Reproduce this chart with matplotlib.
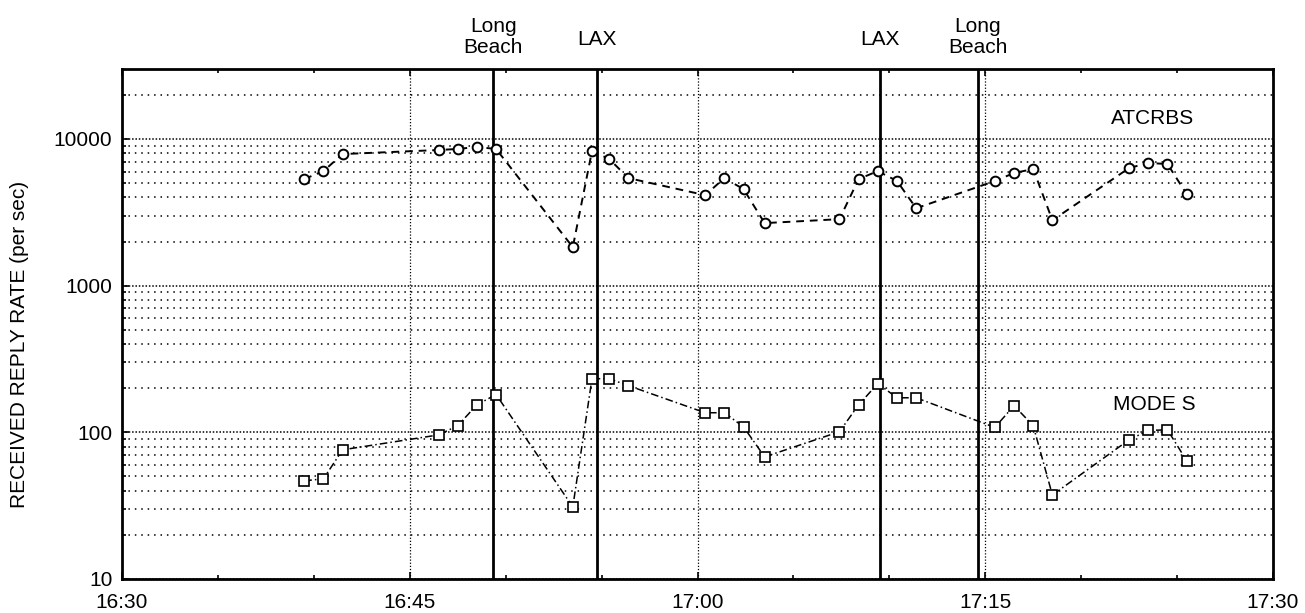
import matplotlib
matplotlib.use("Agg")
import matplotlib.pyplot as plt
import matplotlib.transforms as mtransforms
from matplotlib.ticker import FixedLocator, NullFormatter

plt.rcParams['font.family'] = ['Liberation Sans', 'DejaVu Sans']

# minutes after 16:30
times = [9.5, 10.5, 11.5, 16.5, 17.5, 18.5, 19.5, 23.5, 24.5, 25.4, 26.4,
         30.4, 31.4, 32.4, 33.5, 37.4, 38.4, 39.4, 40.4, 41.4, 45.5, 46.5,
         47.5, 48.5, 52.5, 53.5, 54.5, 55.5]
atcrbs = [5330, 6040, 7890, 8410, 8550, 8820, 8550, 1830, 8280, 7300, 5410,
          4140, 5410, 4550, 2670, 2840, 5330, 6040, 5170, 3370, 5170, 5860,
          6240, 2790, 6340, 6860, 6750, 4210]
mode_s = [46.7, 48.2, 76, 96, 111, 154, 181, 31, 232, 232, 208,
          136, 136, 109, 68, 101, 154, 215, 172, 172, 108, 152,
          111, 37.4, 89, 103, 104, 64]

event_times = [19.35, 24.75, 39.5, 44.6]
event_labels = ['Long\nBeach', 'LAX', 'LAX', 'Long\nBeach']

xtick_pos = [0, 15, 30, 45, 60]
xtick_labels = ['16:30', '16:45', '17:00', '17:15', '17:30']
ytick_pos = [10, 100, 1000, 10000]
ytick_labels = ['10', '100', '1000', '10000']

fig = plt.figure(figsize=(13.05, 6.13), dpi=100)
ax = fig.add_axes([122/1305, 1 - 579/613, (1273-122)/1305, (579-69)/613])

ax.set_yscale('log')
ax.set_xlim(0, 60)
ax.set_ylim(10, 30000)

# grids
for v in ytick_pos:
    ax.axhline(v, color='black', lw=1.1, ls=(0, (1, 1.2)), zorder=1)
minor_vals = [m * 10**e for e in range(1, 5) for m in range(2, 10) if m * 10**e < 30000]
for v in minor_vals:
    ax.axhline(v, color='black', lw=1.1, ls=(0, (1, 3.2)), zorder=1)
for t in [15, 30, 45]:
    ax.axvline(t, color='black', lw=0.9, ls=(0, (1, 1.5)), zorder=1)

for t in event_times:
    ax.axvline(t, color='black', lw=2.0, zorder=2)

ax.plot(times, atcrbs, color='black', ls=(0, (4, 3)), lw=1.4,
        marker='o', ms=7, mfc='white', mec='black', mew=1.4, zorder=3)
ax.plot(times, mode_s, color='black', ls=(0, (5, 2, 1, 2)), lw=1.1,
        marker='s', ms=7, mfc='white', mec='black', mew=1.2, zorder=3)

ax.text(53.7, 13700, 'ATCRBS', ha='center', va='center', fontsize=15)
ax.text(53.8, 154, 'MODE S', ha='center', va='center', fontsize=15)

trans = mtransforms.blended_transform_factory(ax.transData, ax.transAxes)
for t, lab in zip(event_times, event_labels):
    if '\n' in lab:
        ax.text(t, 1.031, lab, transform=trans, ha='center', va='baseline',
                fontsize=15, linespacing=1.15)
    else:
        ax.text(t, 1.047, lab, transform=trans, ha='center', va='baseline',
                fontsize=15)

ax.xaxis.set_major_locator(FixedLocator(xtick_pos))
ax.set_xticklabels(xtick_labels, fontsize=15)
ax.xaxis.set_minor_locator(FixedLocator([5, 10, 20, 25, 35, 40, 50, 55]))
ax.yaxis.set_major_locator(FixedLocator(ytick_pos))
ax.set_yticklabels(ytick_labels, fontsize=15)
ax.yaxis.set_minor_locator(FixedLocator(minor_vals))
ax.yaxis.set_minor_formatter(NullFormatter())

ax.tick_params(which='both', direction='in', top=True, right=False, width=1.2)
ax.tick_params(which='major', length=5, pad=7)
ax.tick_params(axis='x', which='major', pad=10)
ax.tick_params(which='minor', length=3)

for s in ax.spines.values():
    s.set_linewidth(2.0)

ax.set_ylabel('RECEIVED REPLY RATE (per sec)', fontsize=15)
ax.yaxis.set_label_coords(-0.081, 0.459)

fig.savefig('out.png', dpi=100)
